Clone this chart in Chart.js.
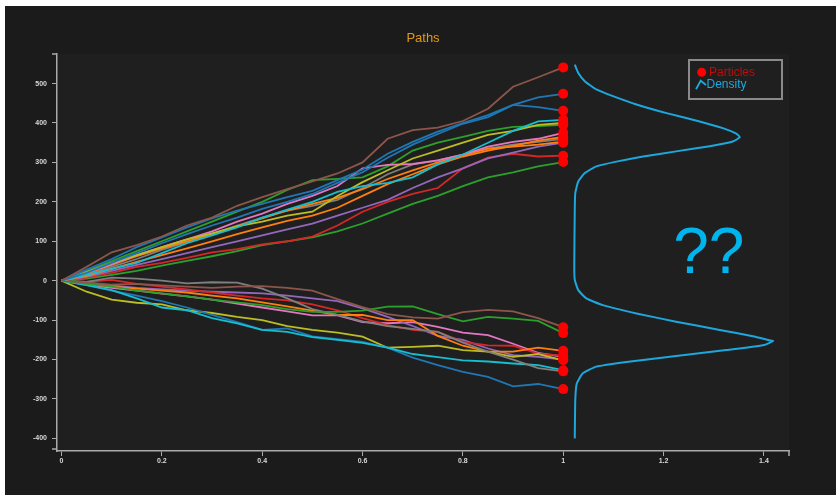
<!DOCTYPE html>
<html>
<head>
<meta charset="utf-8">
<script src="https://cdn.jsdelivr.net/npm/chart.js@4.4.1/dist/chart.umd.min.js"></script>
<style>
  html, body { margin: 0; padding: 0; background: #fff; }
  #canvas { position: absolute; left: 5px; top: 6px; }
</style>
</head>
<body>
<canvas id="canvas" width="831" height="489"></canvas>
<script>
// time steps shared by every path
const steps = [0, 0.05, 0.1, 0.15, 0.2, 0.25, 0.3, 0.35, 0.4, 0.45, 0.5,
               0.55, 0.6, 0.65, 0.7, 0.75, 0.8, 0.85, 0.9, 0.95, 1];

// upper branch
const brownUp  = [0, 35, 72, 90, 112, 140, 160, 190, 212, 232, 252, 272, 300, 360, 382, 388, 405, 436, 492, 516, 541];
const blueUpA  = [0, 28, 55, 85, 110, 135, 158, 178, 195, 212, 228, 255, 282, 322, 352, 378, 400, 420, 446, 465, 474];
const blueUpB  = [0, 20, 45, 70, 95, 118, 140, 160, 182, 200, 220, 248, 275, 312, 345, 372, 398, 415, 446, 440, 431];
const cyanUp   = [0, 15, 30, 45, 70, 95, 115, 135, 160, 180, 200, 225, 240, 248, 262, 295, 320, 350, 380, 404, 408];
const oliveUp  = [0, 22, 45, 65, 85, 105, 120, 138, 150, 165, 175, 215, 250, 280, 310, 330, 350, 370, 380, 395, 400];
const pinkUp   = [0, 20, 42, 65, 85, 105, 125, 150, 170, 195, 215, 240, 285, 294, 296, 305, 320, 340, 352, 360, 375];
const orangeUpA = [0, 12, 30, 48, 65, 82, 100, 118, 135, 152, 165, 185, 215, 245, 270, 295, 315, 330, 342, 355, 365];
const orangeUpB = [0, 18, 40, 62, 82, 100, 118, 138, 158, 178, 195, 210, 232, 258, 280, 300, 318, 335, 340, 345, 353];
const grayUp   = [0, 15, 35, 55, 78, 98, 118, 140, 160, 178, 190, 205, 235, 270, 295, 305, 320, 335, 345, 352, 360];
const purpleUp = [0, 10, 25, 40, 55, 70, 85, 100, 115, 130, 145, 165, 185, 205, 235, 262, 285, 310, 325, 340, 350];
const redUp    = [0, 8, 20, 35, 45, 58, 72, 80, 92, 100, 112, 140, 175, 200, 220, 235, 285, 312, 322, 315, 317];
const greenUpA = [0, 5, 15, 25, 38, 50, 62, 75, 90, 100, 110, 125, 145, 170, 195, 215, 240, 262, 275, 290, 301];
const greenUpB = [0, 25, 50, 75, 100, 125, 150, 175, 200, 230, 255, 258, 262, 290, 330, 350, 365, 380, 390, 392, 395];

// lower branch
const brownLo  = [0, -5, -10, -8, -12, -15, -18, -15, -14, -18, -25, -47, -67, -85, -93, -96, -80, -74, -78, -95, -118];
const greenLo  = [0, -8, -15, -25, -32, -40, -48, -55, -62, -72, -79, -79, -76, -66, -65, -85, -103, -92, -96, -102, -133];
const grayLo   = [0, -3, 8, 5, 0, -7, -4, -5, -20, -45, -72, -87, -103, -115, -122, -130, -157, -180, -200, -222, -230];
const cyanLo   = [0, -11, -24, -45, -68, -75, -95, -108, -125, -130, -143, -150, -158, -170, -186, -194, -202, -205, -210, -214, -227];
const blueLo   = [0, -11, -25, -38, -52, -68, -87, -105, -125, -121, -141, -148, -155, -170, -195, -214, -231, -244, -268, -262, -275];
const oliveLo  = [0, -28, -48, -56, -60, -75, -82, -92, -100, -115, -125, -132, -142, -170, -168, -165, -176, -180, -193, -186, -202];
const orangeLo = [0, -8, -15, -20, -25, -30, -38, -45, -55, -65, -76, -87, -87, -100, -100, -140, -165, -180, -180, -170, -178];
const redLo    = [0, -3, 2, -8, -15, -22, -30, -38, -45, -50, -60, -75, -95, -113, -125, -130, -155, -164, -165, -185, -190];
const purpleLo = [0, -5, -12, -18, -22, -25, -28, -30, -32, -38, -45, -52, -70, -92, -115, -140, -150, -172, -189, -193, -200];
const pinkLo   = [0, -10, -18, -25, -33, -40, -48, -58, -68, -78, -88, -88, -105, -108, -105, -117, -132, -138, -160, -183, -193];

// density curve (value on y, density on x)
const densityY = [548, 527, 506, 485, 468, 447, 425, 404, 387, 373, 364, 353, 341, 328, 315, 302, 290, 273, 252, 222, 180, 36, 2,
                  -24, -45, -62, -83, -104, -125, -141, -151, -153, -163, -176, -191, -206, -218, -235, -261, -303, -400];
const densityX = [1.023, 1.030, 1.043, 1.066, 1.099, 1.146, 1.206, 1.272, 1.318, 1.345, 1.352, 1.338, 1.292, 1.225, 1.159, 1.106, 1.066, 1.043, 1.030, 1.024, 1.023, 1.022, 1.023,
                  1.030, 1.046, 1.079, 1.146, 1.225, 1.312, 1.378, 1.411, 1.418, 1.401, 1.325, 1.225, 1.126, 1.066, 1.039, 1.027, 1.024, 1.023];

const xTicks = [0, 0.2, 0.4, 0.6, 0.8, 1, 1.2, 1.4];
const yTicks = [-400, -300, -200, -100, 0, 100, 200, 300, 400, 500];

const paths = [brownUp, blueUpA, blueUpB, cyanUp, oliveUp, pinkUp, orangeUpA, orangeUpB, grayUp, purpleUp, redUp, greenUpA, greenUpB,
               brownLo, greenLo, grayLo, cyanLo, blueLo, oliveLo, orangeLo, redLo, purpleLo, pinkLo];
const pathColors = ['#8c564b', '#1f77b4', '#1f77b4', '#17becf', '#bcbd22', '#e377c2', '#ff7f0e', '#ff7f0e', '#7f7f7f', '#9467bd', '#d62728', '#2ca02c', '#2ca02c',
                    '#8c564b', '#2ca02c', '#7f7f7f', '#17becf', '#1f77b4', '#bcbd22', '#ff7f0e', '#d62728', '#9467bd', '#e377c2'];

const densityColor = '#1ea7dc';
const particleColor = '#ff0000';

let datasets = [];
datasets.push({
    label: 'Particles',
    data: paths.map(p => ({ x: 1, y: p[p.length - 1] })),
    showLine: false,
    pointRadius: 5,
    pointBackgroundColor: particleColor,
    pointBorderWidth: 0
});
datasets.push({
    label: 'Density',
    data: densityY.map((y, i) => ({ x: densityX[i], y: y })),
    borderColor: densityColor,
    borderWidth: 2,
    pointRadius: 0,
    tension: 0.15
});
for (let i = 0; i < paths.length; i++) {
    datasets.push({
        label: 'path' + i,
        data: steps.map((t, j) => ({ x: t, y: paths[i][j] })),
        borderColor: pathColors[i],
        borderWidth: 1.8,
        pointRadius: 0,
        tension: 0
    });
}

const bgPlugin = {
    id: 'bg',
    beforeDraw(chart) {
        const c = chart.ctx, a = chart.chartArea;
        c.save();
        c.fillStyle = '#1b1b1b';
        c.fillRect(0, 0, chart.width, chart.height);
        c.fillStyle = '#1f1f1f';
        c.fillRect(a.left, a.top, a.right - a.left, a.bottom - a.top);
        c.restore();
    }
};

const extrasPlugin = {
    id: 'extras',
    afterDraw(chart) {
        const c = chart.ctx, a = chart.chartArea;
        c.save();
        // outer ticks at axis ends
        c.strokeStyle = '#aaaaaa';
        c.lineWidth = 1.5;
        c.beginPath();
        c.moveTo(a.left - 5, a.top); c.lineTo(a.left, a.top);
        c.moveTo(a.left - 5, a.bottom - 2); c.lineTo(a.left, a.bottom - 2);
        c.moveTo(a.right, a.bottom); c.lineTo(a.right, a.bottom + 5);
        c.stroke();

        // big question marks
        const xs = chart.scales.x, ys = chart.scales.y;
        c.fillStyle = '#00b4ec';
        c.font = '64px "Liberation Sans", Arial, sans-serif';
        c.textAlign = 'center';
        c.textBaseline = 'middle';
        c.fillText('??', xs.getPixelForValue(1.29), ys.getPixelForValue(65));

        // legend box
        const bx = a.right - 100, by = a.top + 6;
        c.fillStyle = '#1f1f1f';
        c.fillRect(bx, by, 93, 39);
        c.strokeStyle = '#8a8a8a';
        c.lineWidth = 2;
        c.strokeRect(bx, by, 93, 39);
        c.font = '12px "Liberation Sans", Arial, sans-serif';
        c.textAlign = 'left';
        c.textBaseline = 'middle';
        c.fillStyle = particleColor;
        c.beginPath();
        c.arc(bx + 12.7, by + 12.3, 4.5, 0, Math.PI * 2);
        c.fill();
        c.fillStyle = '#c20a0a';
        c.fillText(chart.data.datasets[0].label, bx + 20, by + 12.5);
        c.strokeStyle = densityColor;
        c.lineWidth = 1.8;
        c.beginPath();
        c.moveTo(bx + 7, by + 29.3);
        c.lineTo(bx + 11.7, by + 20.7);
        c.lineTo(bx + 17, by + 25);
        c.stroke();
        c.fillStyle = densityColor;
        c.fillText(chart.data.datasets[1].label, bx + 17.5, by + 24.5);
        c.restore();
    }
};

const tickFont = { family: 'Liberation Sans', size: 7, weight: 'bold' };

new Chart(document.getElementById('canvas'), {
    type: 'line',
    data: { datasets: datasets },
    options: {
        responsive: false,
        animation: false,
        events: [],
        layout: { padding: { left: 0, right: 47, top: 0, bottom: 0 } },
        plugins: {
            legend: { display: false },
            tooltip: { enabled: false },
            title: {
                display: true,
                text: 'Paths',
                color: '#e39a12',
                fullSize: false,
                font: { family: 'Liberation Sans', size: 13, weight: 'normal' },
                padding: { top: 25, bottom: 7.4 }
            }
        },
        scales: {
            x: {
                type: 'linear',
                min: -0.009,
                max: 1.45,
                afterBuildTicks: s => { s.ticks = xTicks.map(v => ({ value: v })); },
                afterFit: s => { s.height = 44; },
                grid: { drawOnChartArea: false, drawTicks: true, tickLength: 5, color: '#aaaaaa', lineWidth: 1 },
                border: { display: true, color: '#aaaaaa', width: 1.5 },
                ticks: { color: '#d8d8d8', font: tickFont, padding: 1, maxRotation: 0, autoSkip: false, callback: v => String(v) }
            },
            y: {
                type: 'linear',
                min: -432,
                max: 575,
                afterBuildTicks: s => { s.ticks = yTicks.map(v => ({ value: v })); },
                afterFit: s => { s.width = 52; },
                grid: { drawOnChartArea: false, drawTicks: true, tickLength: 5, color: '#aaaaaa', lineWidth: 1 },
                border: { display: true, color: '#aaaaaa', width: 1.5 },
                ticks: { color: '#d8d8d8', font: tickFont, padding: 5, autoSkip: false, callback: v => String(v) }
            }
        }
    },
    plugins: [bgPlugin, extrasPlugin]
});
</script>
</body>
</html>
